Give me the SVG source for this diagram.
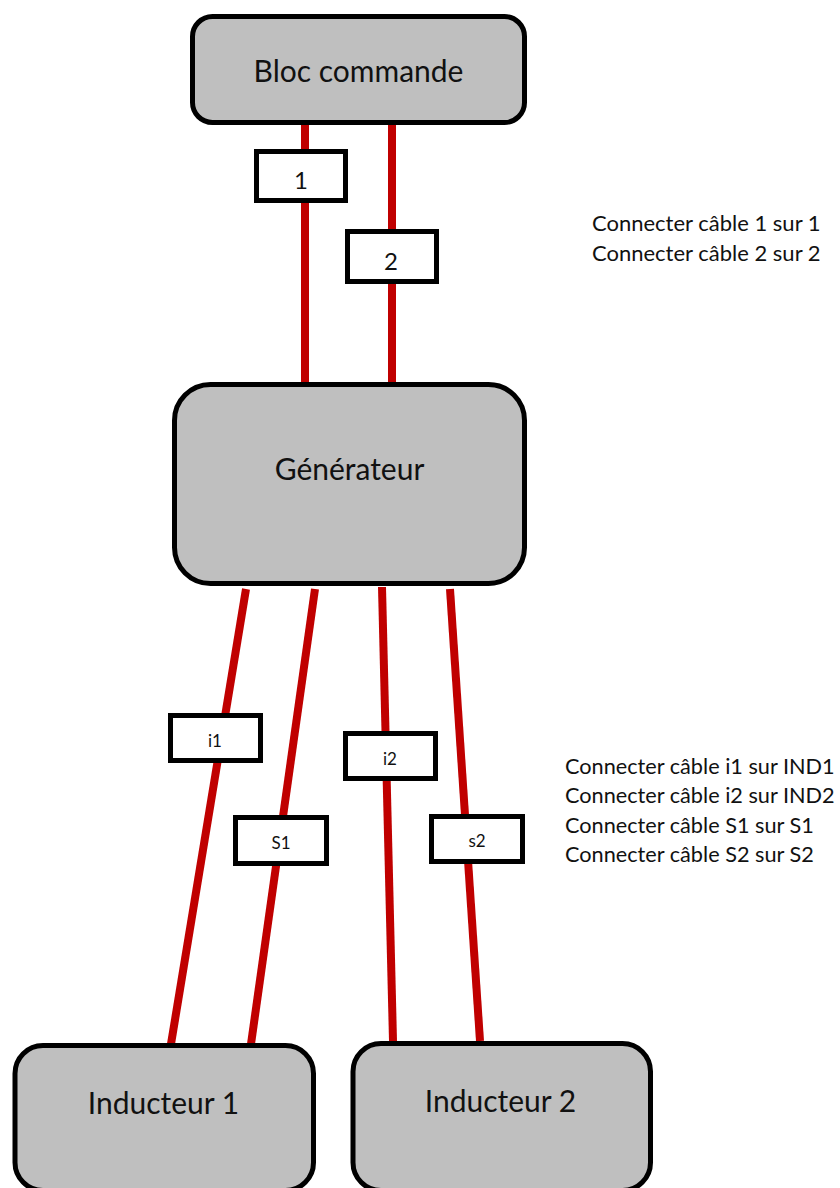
<svg xmlns="http://www.w3.org/2000/svg" width="840" height="1188" viewBox="0 0 840 1188">
<style>
text{font-family:"Lato","Liberation Sans",sans-serif;fill:#111;text-anchor:middle}
.big{font-size:30px}.mid{font-size:24px}.small{font-size:17px}
.note{font-size:21.7px;text-anchor:start}
.note-top{font-size:22px}
.block{fill:#bfbfbf;stroke:#000;stroke-width:5}
.tag{fill:#fff;stroke:#000;stroke-width:5}
#connectors line{stroke:#c00000;stroke-width:8}
</style>
<rect width="840" height="1188" fill="#fff"/>
<g id="connectors">
<line x1="305" y1="123" x2="305" y2="382"/>
<line x1="392" y1="123" x2="392" y2="382"/>
<line x1="246" y1="589" x2="171" y2="1044"/>
<line x1="315" y1="589" x2="251" y2="1044"/>
<line x1="382" y1="587" x2="393" y2="1041"/>
<line x1="450" y1="589" x2="480" y2="1041"/>
</g>
<g id="bloc-commande"><rect class="block" x="192.5" y="16.5" width="332" height="106" rx="20"/><text class="big" x="358.500" y="82">Bloc commande</text></g>
<g id="generateur"><rect class="block" x="174.500" y="384.500" width="350" height="199" rx="36"/><text class="big" x="349.500" y="480">Générateur</text></g>
<g id="inducteur-1"><rect class="block" x="15" y="1045.500" width="298.500" height="145" rx="28"/><text class="big" x="163.500" y="1114">Inducteur 1</text></g>
<g id="inducteur-2"><rect class="block" x="353" y="1043.500" width="297.500" height="147" rx="28"/><text class="big" x="500.500" y="1112">Inducteur 2</text></g>
<g id="tag-1"><rect class="tag" x="256.500" y="151.500" width="89" height="49"/><text class="mid" x="301" y="189">1</text></g>
<g id="tag-2"><rect class="tag" x="347.500" y="231.500" width="89" height="50"/><text class="mid" x="391" y="270">2</text></g>
<g id="tag-i1"><rect class="tag" x="170.500" y="715.500" width="90" height="45"/><text class="small" x="215" y="747">i1</text></g>
<g id="tag-i2"><rect class="tag" x="345.500" y="733.500" width="90" height="45"/><text class="small" x="390" y="765">i2</text></g>
<g id="tag-s1"><rect class="tag" x="235.500" y="817.500" width="91" height="46"/><text class="small" x="281" y="849">S1</text></g>
<g id="tag-s2"><rect class="tag" x="431.500" y="816.500" width="91" height="45"/><text class="small" x="477" y="847">s2</text></g>
<g id="note-top">
<text class="note note-top" x="592" y="231">Connecter câble 1 sur 1</text>
<text class="note note-top" x="592" y="261">Connecter câble 2 sur 2</text>
</g>
<g id="note-bottom">
<text class="note" x="565" y="774">Connecter câble i1 sur IND1</text>
<text class="note" x="565" y="803">Connecter câble i2 sur IND2</text>
<text class="note" x="565" y="833">Connecter câble S1 sur S1</text>
<text class="note" x="565" y="862">Connecter câble S2 sur S2</text>
</g>
</svg>
